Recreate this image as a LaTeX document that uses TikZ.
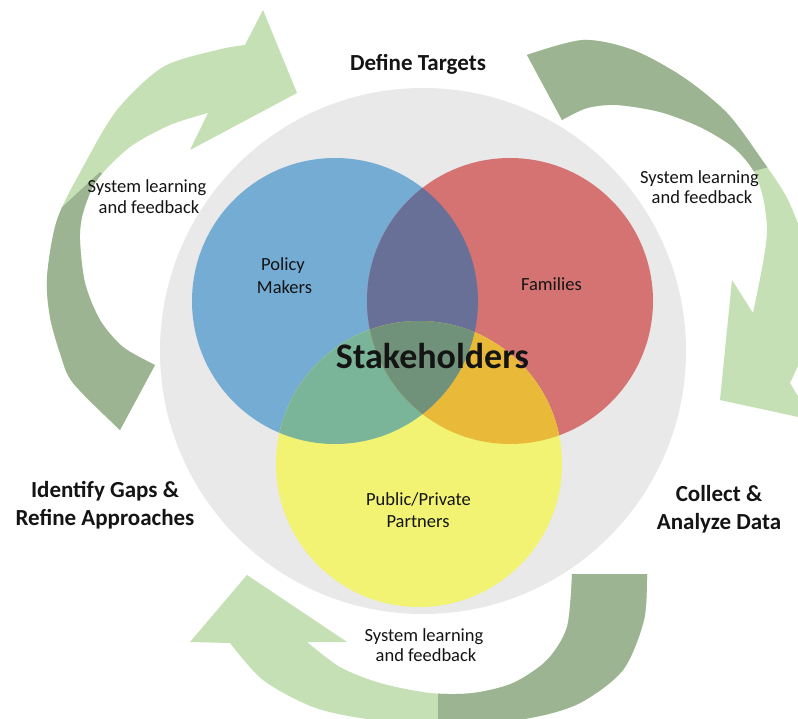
\documentclass[tikz,border=0pt]{standalone}
\usepackage{fontspec}
\setmainfont{Carlito}
\definecolor{dkgreen}{RGB}{156,180,145}
\definecolor{ltgreen}{RGB}{197,224,180}
\definecolor{ringgrey}{RGB}{233,233,233}
\definecolor{cblue}{RGB}{116,172,212}
\definecolor{cred}{RGB}{213,115,115}
\definecolor{cyellow}{RGB}{242,243,115}
\definecolor{cpurple}{RGB}{104,112,152}
\definecolor{cteal}{RGB}{122,180,153}
\definecolor{corange}{RGB}{233,185,58}
\definecolor{ccenter}{RGB}{113,146,122}
\definecolor{txt}{RGB}{20,20,20}
\tikzset{
  smalltxt/.style={font=\fontsize{18.5}{22}\selectfont, anchor=base, inner sep=0pt, text=txt},
  bigtxt/.style={font=\fontsize{23}{27}\selectfont\bfseries, anchor=base, inner sep=0pt, text=txt},
  hugetxt/.style={font=\fontsize{36}{40}\selectfont\bfseries, anchor=base, inner sep=0pt, text=txt},
}
\def\arrowA{plot[smooth] coordinates {(120,430) (73,383) (60,353) (50,317) (47,277) (57,220) (83,167) (117,110) (163,67) (217,50) (245,45)}
  -- (263,10) -- (297,93) -- (190,150) -- (208,113)
  -- plot[smooth] coordinates {(208,113) (170,125) (130,147) (97,180) (83,213) (80,240) (85,283) (100,320) (123,347) (155,365)} -- cycle}
\def\arrowB{plot[smooth] coordinates {(527,55) (583,40) (633,50) (683,77) (727,113) (760,157) (787,198) (805,245) (813,295) (808,340) (790,383)}
  -- (812,420) -- (720,400) -- (732,280) -- (753,313)
  -- plot[smooth] coordinates {(753,313) (763,263) (767,230) (763,197) (753,170) (733,147) (700,127) (660,112) (617,105) (587,108) (562,120)} -- cycle}
\def\arrowC{plot[smooth] coordinates {(647,574) (644,620) (623,670) (580,703) (530,718) (450,727) (367,719) (313,707) (263,680) (230,643)}
  -- (190,642) -- (247,575) -- (347,642) -- (307,642)
  -- plot[smooth] coordinates {(307,642) (340,667) (380,683) (430,693) (473,693) (513,683) (547,660) (567,627) (572,574)} -- cycle}
\def\cBlue{(335,301) circle[radius=143]}
\def\cRed{(510,301) circle[radius=143]}
\def\cYellow{(419,464) circle[radius=143]}
\begin{document}
\begin{tikzpicture}[x=1pt,y=-1pt]
\useasboundingbox (0,0) rectangle (798,719);
\fill[white] (0,0) rectangle (798,719);
\begin{scope}
  \clip (0,0) rectangle (798,719);
  % arrows
  \fill[ltgreen] \arrowA;
  \begin{scope}
    \clip \arrowA;
    \fill[dkgreen] (0,265) -- (100,172) -- (250,300) -- (250,460) -- (0,460) -- cycle;
  \end{scope}
  \fill[ltgreen] \arrowB;
  \begin{scope}
    \clip \arrowB;
    \fill[dkgreen] (480,0) -- (798,0) -- (830,150) -- (740,175) -- (700,300) -- (480,300) -- cycle;
  \end{scope}
  \fill[ltgreen] \arrowC;
  \begin{scope}
    \clip \arrowC;
    \fill[dkgreen] (438,560) -- (700,560) -- (700,740) -- (438,740) -- cycle;
  \end{scope}
\end{scope}
% grey disc
\fill[ringgrey] (423,351) circle[radius=263];
% venn circles
\fill[cblue] \cBlue;
\fill[cred] \cRed;
\fill[cyellow] \cYellow;
\begin{scope}
  \clip \cBlue;
  \fill[cpurple] \cRed;
\end{scope}
\begin{scope}
  \clip \cBlue;
  \fill[cteal] \cYellow;
\end{scope}
\begin{scope}
  \clip \cRed;
  \fill[corange] \cYellow;
\end{scope}
\begin{scope}
  \clip \cBlue;
  \clip \cRed;
  \fill[ccenter] \cYellow;
\end{scope}
% labels
\node[bigtxt] (define) at (418,71) {Define Targets};
\node[bigtxt] (identA) at (105,497) {Identify Gaps \&};
\node[bigtxt] (identB) at (105,525) {Refine Approaches};
\node[bigtxt] (collA) at (719,501.5) {Collect \&};
\node[bigtxt] (collB) at (719,529.5) {Analyze Data};
\node[hugetxt] (stake) at (432.5,368.3) {Stakeholders};
\node[smalltxt] (policyA) at (283,270.7) {Policy};
\node[smalltxt] (policyB) at (284.5,293.3) {Makers};
\node[smalltxt] (families) at (551.5,291) {Families};
\node[smalltxt] (pubA) at (418.5,505) {Public/Private};
\node[smalltxt] (pubB) at (418,527.7) {Partners};
\node[smalltxt] (slLa) at (147,192.3) {System learning};
\node[smalltxt] (slLb) at (149,213.3) {and feedback};
\node[smalltxt] (slRa) at (699.5,183.3) {System learning};
\node[smalltxt] (slRb) at (702,204) {and feedback};
\node[smalltxt] (slBa) at (424,641.7) {System learning};
\node[smalltxt] (slBb) at (426,661.7) {and feedback};
\end{tikzpicture}
\end{document}
